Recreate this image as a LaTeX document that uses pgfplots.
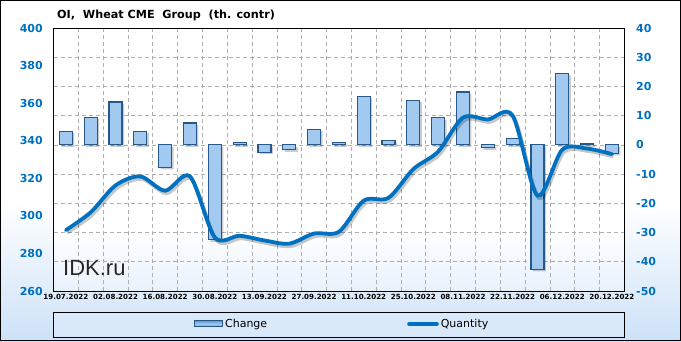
\documentclass[border=0pt]{standalone}
\usepackage{fontspec}
\setmainfont{DejaVu Sans}
\newfontfamily\idkfont{Liberation Sans}
\usepackage{pgfplots}
\pgfplotsset{compat=1.18}
\definecolor{tickblue}{RGB}{0,112,192}
\definecolor{lineblue}{RGB}{0,112,192}
\definecolor{bgblue}{RGB}{205,226,248}
\definecolor{plotblue}{RGB}{232,241,252}
\definecolor{legendblue}{RGB}{218,233,249}
\definecolor{barfill}{RGB}{162,202,240}
\definecolor{baredge}{RGB}{105,155,200}
\definecolor{barline}{RGB}{38,88,138}
\definecolor{gridgray}{RGB}{175,175,175}
\begin{document}
\begin{tikzpicture}
\useasboundingbox (0pt,0pt) rectangle (681pt,341pt);
\fill[white] (0pt,0pt) rectangle (681pt,341pt);
\shade[top color=white,bottom color=bgblue] (0pt,0pt) rectangle (681pt,140pt);
\fill[white] (53.5pt,50pt) rectangle (624.3pt,313pt);
\shade[top color=white,bottom color=plotblue] (53.5pt,50pt) rectangle (624.3pt,110pt);
\fill[legendblue] (53.5pt,4pt) rectangle (624.5pt,29pt);
\draw[black,line width=0.8pt] (53.5pt,4pt) rectangle (624.5pt,29pt);
\draw[black,line width=1pt] (0.5pt,0.5pt) rectangle (680.5pt,340.5pt);
\node[anchor=base west,inner sep=0pt,font=\bfseries\fontsize{11.2}{13}\selectfont] at (57pt,322pt) {OI,\ \ Wheat CME\ \ Group\ \ (th. contr)};

\begin{axis}[
  at={(53.5pt,50pt)}, anchor=south west, scale only axis,
  width=570.8pt, height=263pt,
  xmin=-0.5, xmax=22.5, ymin=-50, ymax=40,
  ytick={-50,-40,-30,-20,-10,0,10,20,30,40},
  yticklabels={-50,-40,-30,-20,-10,0,10,20,30,40},
  yticklabel pos=right,
  xtick={0,2,4,6,8,10,12,14,16,18,20,22},
  xticklabels={19.07.2022,02.08.2022,16.08.2022,30.08.2022,13.09.2022,27.09.2022,11.10.2022,25.10.2022,08.11.2022,22.11.2022,06.12.2022,20.12.2022},
  minor xtick={0.5,1.5,2.5,3.5,4.5,5.5,6.5,7.5,8.5,9.5,10.5,11.5,12.5,13.5,14.5,15.5,16.5,17.5,18.5,19.5,20.5,21.5},
  major tick length=0pt, minor tick length=0pt,
  ymajorgrids, xminorgrids,
  grid style={dash pattern=on 4pt off 3pt, gridgray, line width=0.6pt},
  minor grid style={dash pattern=on 4pt off 3pt, gridgray, line width=0.6pt},
  axis line style={black, line width=1pt},
  y tick label style={font=\bfseries\fontsize{11}{11}\selectfont, text=tickblue, anchor=west, inner sep=0pt, xshift=11.7pt},
  x tick label style={font=\bfseries\fontsize{7.1}{8}\selectfont, anchor=north, inner sep=0pt, yshift=-3pt},
  ybar, bar width=13pt, bar shift=0pt,
]
\addplot[ybar, forget plot, fill=black, draw=none, opacity=0.2, shift={(2pt,-2pt)}] coordinates {
(0,4.7) (1,9.5) (2,14.7) (3,4.7) (4,-7.7) (5,7.5) (6,-32.5) (7,0.9) (8,-2.5) (9,-1.7) (10,5.4) (11,0.9)
(12,16.6) (13,1.5) (14,15.3) (15,9.3) (16,18.1) (17,-1.0) (18,2.1) (19,-42.6) (20,24.4) (21,0.6) (22,-2.9)};
\addplot[ybar, draw=barline, line width=1.2pt, fill=barfill] coordinates {
(0,4.7) (1,9.5) (2,14.7) (3,4.7) (4,-7.7) (5,7.5) (6,-32.5) (7,0.9) (8,-2.5) (9,-1.7) (10,5.4) (11,0.9)
(12,16.6) (13,1.5) (14,15.3) (15,9.3) (16,18.1) (17,-1.0) (18,2.1) (19,-42.6) (20,24.4) (21,0.6) (22,-2.9)};
\end{axis}

\begin{axis}[
  at={(53.5pt,50pt)}, anchor=south west, scale only axis,
  width=570.8pt, height=263pt,
  xmin=-0.5, xmax=22.5, ymin=260, ymax=400,
  ytick={260,280,300,320,340,360,380,400},
  yticklabels={260,280,300,320,340,360,380,400},
  yticklabel pos=left, xtick=\empty,
  major tick length=0pt,
  axis line style={black, line width=1pt},
  y tick label style={font=\bfseries\fontsize{11}{11}\selectfont, text=tickblue, anchor=east, inner sep=0pt, xshift=-10.5pt},
  legend style={at={(axis description cs:0.246,-0.125)}, anchor=west, draw=none, fill=none, inner sep=0pt,
    font=\fontsize{11}{13}\selectfont, /tikz/every even column/.append style={column sep=138pt}},
  legend columns=2, legend cell align=left,
]
\addlegendimage{legend image code/.code={\draw[draw=barline, line width=1pt, top color=baredge, bottom color=baredge, middle color=barfill] (0pt,-3pt) rectangle (28pt,3pt);}}
\addlegendentry{Change}
\addplot[forget plot, smooth, line width=3.8pt, black, opacity=0.22, shift={(1.5pt,-2.5pt)}] coordinates {
(0,292.4) (1,301.9) (2,316.2) (3,321.0) (4,313.4) (5,321.0) (6,288.5) (7,289.4) (8,286.9) (9,285.2) (10,290.6) (11,291.5)
(12,308.1) (13,309.6) (14,324.9) (15,334.2) (16,352.3) (17,351.3) (18,353.4) (19,310.8) (20,335.2) (21,335.8) (22,332.9)};
\addplot[smooth, line width=3.8pt, lineblue, line cap=round,
  legend image code/.code={\draw[line width=3.6pt, lineblue] (0pt,0pt) -- (28pt,0pt);}] coordinates {
(0,292.4) (1,301.9) (2,316.2) (3,321.0) (4,313.4) (5,321.0) (6,288.5) (7,289.4) (8,286.9) (9,285.2) (10,290.6) (11,291.5)
(12,308.1) (13,309.6) (14,324.9) (15,334.2) (16,352.3) (17,351.3) (18,353.4) (19,310.8) (20,335.2) (21,335.8) (22,332.9)};
\addlegendentry{Quantity}
\end{axis}
\node[anchor=base west,inner sep=0pt,font=\idkfont\fontsize{22}{22}\selectfont,text=black!85] at (63pt,65.3pt) {IDK.ru};
\end{tikzpicture}
\end{document}
